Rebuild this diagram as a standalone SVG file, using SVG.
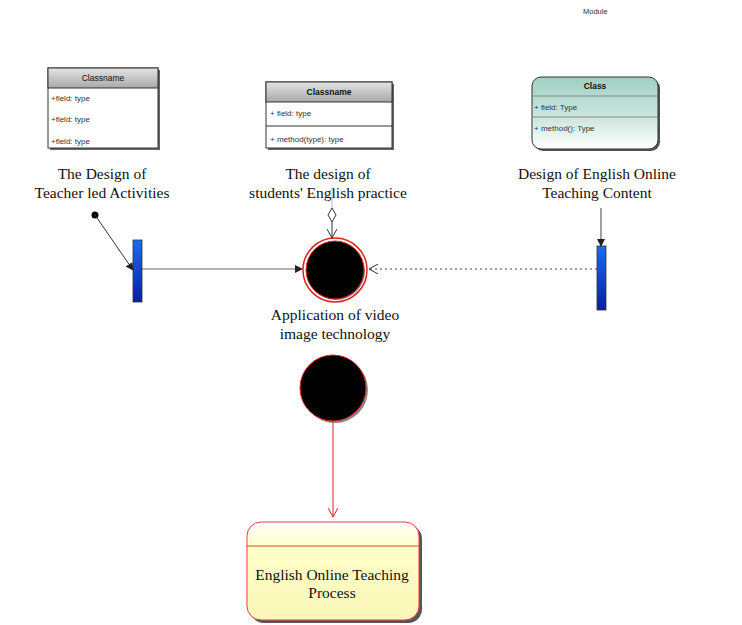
<svg xmlns="http://www.w3.org/2000/svg" width="742" height="625" viewBox="0 0 742 625">
<defs>
<linearGradient id="gGray" x1="0" y1="0" x2="0" y2="1"><stop offset="0" stop-color="#e4e4e4"/><stop offset="1" stop-color="#a8a8a8"/></linearGradient>
<linearGradient id="gTeal" x1="0" y1="0" x2="0" y2="1"><stop offset="0" stop-color="#9fd0c2"/><stop offset="0.6" stop-color="#cfe8e0"/><stop offset="1" stop-color="#ffffff"/></linearGradient>
<linearGradient id="gBlue" x1="0" y1="0" x2="0" y2="1"><stop offset="0" stop-color="#1a6cf0"/><stop offset="1" stop-color="#0a1ea0"/></linearGradient>
<linearGradient id="gYellow" x1="0" y1="0" x2="0" y2="1"><stop offset="0" stop-color="#ffffff"/><stop offset="0.25" stop-color="#ffffc8"/><stop offset="1" stop-color="#fbf6b8"/></linearGradient>
<marker id="aFill" markerWidth="8" markerHeight="8" refX="7" refY="4" orient="auto" markerUnits="userSpaceOnUse"><path d="M0,0 L8,4 L0,8 z" fill="#222"/></marker>
<marker id="aOpen" markerWidth="10" markerHeight="10" refX="9" refY="5" orient="auto" markerUnits="userSpaceOnUse"><path d="M0,0 L9,5 L0,10" fill="none" stroke="#333" stroke-width="1"/></marker>
<marker id="aRed" markerWidth="10" markerHeight="10" refX="9" refY="5" orient="auto" markerUnits="userSpaceOnUse"><path d="M0,0 L9,5 L0,10" fill="none" stroke="#e02020" stroke-width="1"/></marker>
</defs>
<style>
.lbl{font-family:"Liberation Serif","Times New Roman",serif;font-size:15.5px;fill:#111;text-anchor:middle}
.cls{font-family:"Liberation Sans",Arial,sans-serif;font-size:8px;fill:#333}
.clsh{font-family:"Liberation Sans",Arial,sans-serif;font-size:8.5px;fill:#111;text-anchor:middle}
.box{stroke:#333;stroke-width:1}
</style>
<rect width="742" height="625" fill="#fff"/>
<text x="583" y="14" font-family="Liberation Sans, Arial, sans-serif" font-size="7.5" fill="#333">Module</text>

<g id="class1">
<rect x="50" y="70" width="110" height="80" fill="#666"/>
<rect x="48" y="68" width="110" height="80" fill="#fff" class="box"/>
<rect x="48" y="68" width="110" height="20" fill="url(#gGray)" class="box"/>
<text x="103" y="81" class="clsh">Classname</text>
<text x="51" y="101" class="cls">+field: type</text>
<text x="51" y="122" class="cls">+field: type</text>
<text x="51" y="144" class="cls">+field: type</text>
</g>

<g id="class2">
<rect x="268" y="84" width="126" height="66" fill="#666"/>
<rect x="266" y="82" width="126" height="66" fill="#fff" class="box"/>
<rect x="266" y="82" width="126" height="20" fill="url(#gGray)" class="box"/>
<text x="329" y="95" class="clsh" font-weight="bold">Classname</text>
<line x1="266" y1="126" x2="392" y2="126" stroke="#333"/>
<text x="270" y="116" class="cls">+ field: type</text>
<text x="270" y="142" class="cls">+ method(type): type</text>
</g>

<g id="class3">
<rect x="534" y="79" width="126" height="72" rx="9" fill="#555"/>
<rect x="532" y="77" width="126" height="72" rx="9" fill="url(#gTeal)" class="box"/>
<text x="595" y="89" class="clsh" font-weight="bold">Class</text>
<line x1="532" y1="96" x2="658" y2="96" stroke="#888"/>
<line x1="532" y1="117" x2="658" y2="117" stroke="#888"/>
<text x="534" y="110" class="cls">+ field: Type</text>
<text x="534" y="131" class="cls">+ method(): Type</text>
</g>

<g id="label1">
<text x="102" y="179" class="lbl">The Design of</text>
<text x="102" y="198" class="lbl">Teacher led Activities</text>
</g>
<g id="label2">
<text x="328" y="179" class="lbl">The design of</text>
<text x="328" y="198" class="lbl">students' English practice</text>
</g>
<g id="label3">
<text x="597" y="179" class="lbl">Design of English Online</text>
<text x="597" y="198" class="lbl">Teaching Content</text>
</g>

<g id="bar1">
<rect x="133" y="240" width="9" height="62" fill="url(#gBlue)" stroke="#333" stroke-width="0.8"/>
</g>
<g id="bar2">
<rect x="597" y="246" width="9" height="64" fill="url(#gBlue)" stroke="#333" stroke-width="0.8"/>
</g>

<g id="circle1">
<circle cx="335" cy="270" r="32" fill="#fff" stroke="#e02020" stroke-width="1.5"/>
<circle cx="336" cy="271" r="29" fill="#888"/>
<circle cx="335" cy="270" r="29" fill="#000" stroke="#e02020" stroke-width="1"/>
</g>
<g id="label4">
<text x="335" y="320" class="lbl">Application of video</text>
<text x="335" y="339" class="lbl">image technology</text>
</g>

<g id="circle2">
<circle cx="335" cy="390" r="33" fill="#888"/>
<circle cx="333" cy="388" r="33" fill="#000" stroke="#e02020" stroke-width="1"/>
</g>

<g id="process">
<rect x="250" y="525" width="172" height="98" rx="14" fill="#555"/>
<rect x="247" y="522" width="172" height="98" rx="14" fill="url(#gYellow)" stroke="#e84040" stroke-width="1"/>
<line x1="247" y1="546" x2="419" y2="546" stroke="#e84040"/>
<text x="332" y="580" class="lbl">English Online Teaching</text>
<text x="332" y="598" class="lbl">Process</text>
</g>

<g id="connectors">
<circle cx="95" cy="215" r="3.5" fill="#000"/>
<line x1="95" y1="215" x2="133" y2="270" stroke="#333" stroke-width="1" marker-end="url(#aFill)"/>
<line x1="142" y1="269" x2="302" y2="269" stroke="#666" stroke-width="1" marker-end="url(#aFill)"/>
<line x1="332" y1="188" x2="332" y2="208" stroke="#aaa" stroke-width="0.8"/>
<path d="M332,208 L336,215 L332,222 L328,215 z" fill="#fff" stroke="#333" stroke-width="1"/>
<line x1="332" y1="222" x2="332" y2="238" stroke="#333" stroke-width="1" marker-end="url(#aOpen)"/>
<line x1="597" y1="269" x2="369" y2="269" stroke="#444" stroke-width="1" stroke-dasharray="2,3" marker-end="url(#aOpen)"/>
<line x1="601" y1="208" x2="601" y2="246" stroke="#444" stroke-width="1" marker-end="url(#aFill)"/>
<line x1="333" y1="421" x2="333" y2="517" stroke="#e02020" stroke-width="1" marker-end="url(#aRed)"/>
</g>
</svg>
